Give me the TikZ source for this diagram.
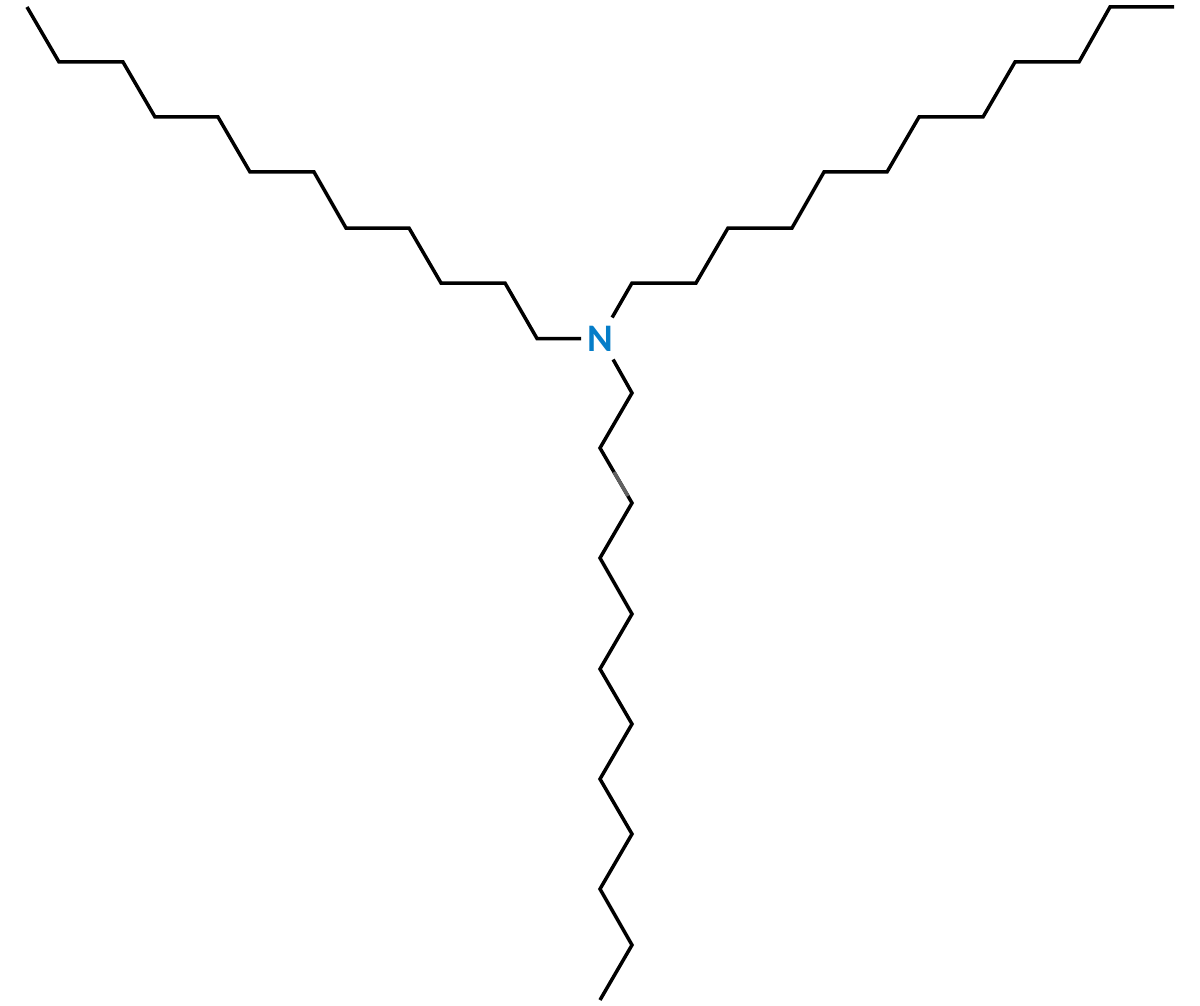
\documentclass[tikz,border=0pt]{standalone}
\usepackage{fontspec}
\setmainfont{Carlito}
\definecolor{nblue}{RGB}{5,125,200}
\tikzset{
  bond/.style={draw=black,line width=3.5pt,line join=miter},
  bondfade/.style={draw=black!62,line width=3.5pt},
  atom/.style={inner sep=0pt,outer sep=0pt,minimum width=39pt,minimum height=42pt,text=nblue,font=\bfseries\fontsize{39}{39}\selectfont}
}
\begin{document}
\begin{tikzpicture}[x=1pt,y=-1pt]
\useasboundingbox (0,0) rectangle (1200,1006);
\node[atom] (N) at (600.5,338.5) {N};
\foreach \n/\p in {a1/{537,338.5},a2/{505,283},a3/{441,283},a4/{409,228},a5/{346,228},a6/{314,172},a7/{250,172},a8/{218,117},a9/{155,117},a10/{123,62},a11/{59,62},a12/{27,7},
 b1/{632,283},b2/{696,283},b3/{728,228},b4/{792,228},b5/{824,172},b6/{887,172},b7/{919,117},b8/{983,117},b9/{1015,62},b10/{1079,62},b11/{1110,7},b12/{1174,7},
 c1/{632,393},c2/{600,448},c3/{632,503},c4/{600,558},c5/{632,614},c6/{600,669},c7/{632,724},c8/{600,779},c9/{632,834},c10/{600,889},c11/{632,945},c12/{600,1000},
 f1/{614,472},f2/{628,496}}
  {\coordinate (\n) at (\p);}
\draw[bond] (N.west) -- (a1) -- (a2) -- (a3) -- (a4) -- (a5) -- (a6) -- (a7) -- (a8) -- (a9) -- (a10) -- (a11) -- (a12);
\draw[bond] (N.61) -- (b1) -- (b2) -- (b3) -- (b4) -- (b5) -- (b6) -- (b7) -- (b8) -- (b9) -- (b10) -- (b11) -- (b12);
\draw[bond] (N.-59) -- (c1) -- (c2) -- (c3) -- (c4) -- (c5) -- (c6) -- (c7) -- (c8) -- (c9) -- (c10) -- (c11) -- (c12);
\draw[bondfade] (f1) -- (f2);
\end{tikzpicture}
\end{document}
